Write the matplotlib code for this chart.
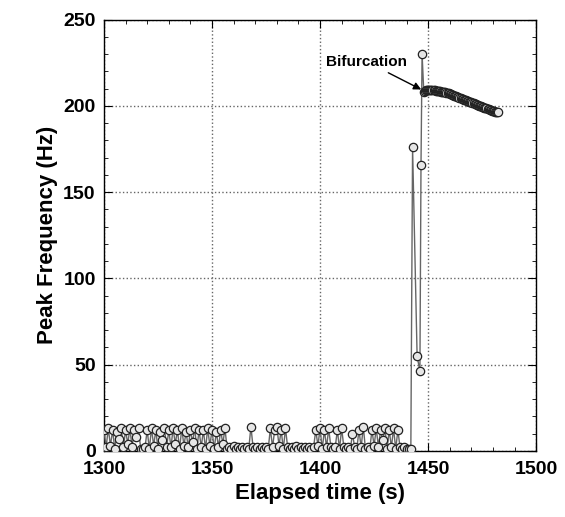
import matplotlib.pyplot as plt
import numpy as np
from matplotlib.ticker import MultipleLocator

plt.rc("font", family=["Liberation Sans", "DejaVu Sans"], weight="bold")

# low-frequency phase, one sample per second from 1300 s
low_start = 1300
low_freq = [
    12, 2, 13, 3, 12, 1, 11, 7, 13, 2, 12, 4, 13, 2, 12, 8, 13, 1, 1, 2,
    12, 1, 13, 3, 12, 1, 11, 6, 13, 2, 12, 2, 13, 4, 12, 1, 13, 3, 11, 2,
    12, 5, 13, 1, 12, 2, 12, 1, 13, 3, 12, 1, 11, 2, 12, 4, 13, 1,
    2, 1, 3, 1, 2, 1, 2, 1, 2, 1, 14, 2, 1, 2, 1, 2, 1, 2, 1,
    13, 2, 12, 14, 3, 12, 1, 13, 2,
    1, 2, 1, 3, 1, 2, 1, 2, 1, 2, 1, 2,
    12, 3, 13, 1, 12, 2, 13, 2, 1, 2, 12, 1, 13, 2, 1, 2, 1, 10, 2, 1,
    12, 2, 14, 1, 2, 1, 12, 3, 13, 2, 12, 6, 13, 1, 12, 2, 13, 1, 12, 2,
    1, 2, 1, 1, 1,
]

# transition around the bifurcation
jump_time = [1442.8, 1444.9, 1446.2, 1446.7, 1447.2]
jump_freq = [176, 55, 46, 166, 230]

# high-frequency branch after the bifurcation, sampled every 0.5 s
high_start = 1448
high_freq = [208, 208.5, 209, 209, 209, 209, 209, 209, 209, 209,
             209, 208.8, 208.6, 208.5, 208.5, 208.4, 208.3, 208.2, 208, 208,
             207.8, 207.6, 207.4, 207.2, 207, 206.8, 206.5, 206.3, 206, 205.8,
             205.5, 205.2, 205, 204.7, 204.5, 204.2, 204, 203.7, 203.5, 203.2,
             203, 202.7, 202.5, 202.2, 202, 201.7, 201.5, 201.2, 201, 200.7,
             200.5, 200.2, 200, 199.7, 199.5, 199.2, 199, 198.7, 198.5, 198.2,
             198, 197.7, 197.5, 197.2, 197, 196.8, 196.6, 196.5, 196.3, 196.2]

low_time = low_start + np.arange(len(low_freq))
high_time = high_start + 0.5 * np.arange(len(high_freq))
t = np.concatenate([low_time, jump_time, high_time])
f = np.concatenate([low_freq, jump_freq, high_freq])

fig = plt.figure(figsize=(5.65, 5.17), dpi=100)
ax = fig.add_axes([0.184, 0.128, 0.765, 0.834])

ax.plot(t, f, color='#666666', lw=1.0, marker='o', ms=6,
        mfc='#e6e6e6', mec='#222222', mew=0.9, zorder=3)

ax.set_xlim(1300, 1500)
ax.set_ylim(0, 250)
ax.xaxis.set_major_locator(MultipleLocator(50))
ax.xaxis.set_minor_locator(MultipleLocator(10))
ax.yaxis.set_major_locator(MultipleLocator(50))
ax.yaxis.set_minor_locator(MultipleLocator(10))
ax.tick_params(which='both', direction='in', top=True, right=True,
               labelsize=14)
ax.tick_params(axis='x', pad=7)
ax.tick_params(axis='y', pad=6)
ax.tick_params(which='major', length=6)
ax.tick_params(which='minor', length=3)
ax.grid(True, which='major', ls=':', color='#666666', lw=1)
for s in ax.spines.values():
    s.set_linewidth(1.0)

ax.set_xlabel('Elapsed time (s)', fontsize=16, fontweight='bold')
ax.set_ylabel('Peak Frequency (Hz)', fontsize=16, fontweight='bold')

ax.annotate('Bifurcation', xy=(1446.8, 209.5), xytext=(1402.8, 225.6),
            fontsize=11, fontweight='bold', ha='left', va='center',
            arrowprops=dict(arrowstyle='-|>', color='black', lw=1,
                            shrinkA=2, shrinkB=0))

fig.savefig('out.png', dpi=100)
